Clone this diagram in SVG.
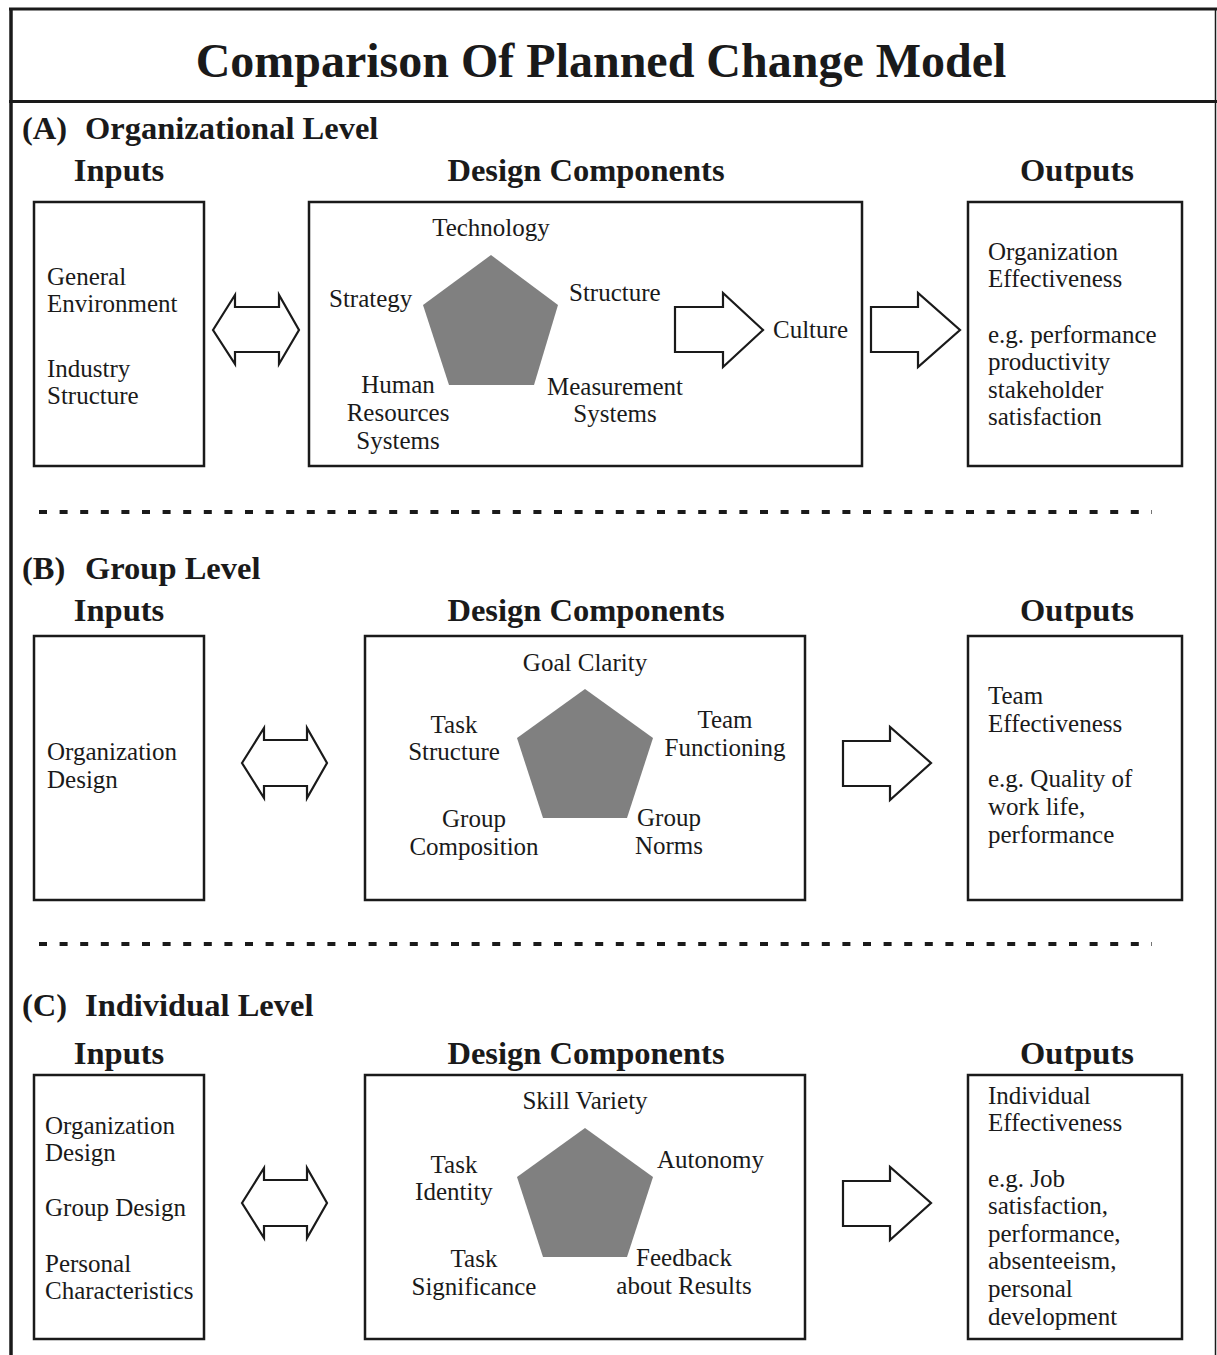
<svg xmlns="http://www.w3.org/2000/svg" width="1217" height="1355" viewBox="0 0 1217 1355">
<defs>
<style>
.frame{fill:none;stroke:#1a1a1a}
.box{fill:#fff;stroke:#1a1a1a;stroke-width:2.5}
.arrow{fill:#fff;stroke:#1a1a1a;stroke-width:2.2;stroke-linejoin:miter}
.pent{fill:#808080;stroke:none}
.dash{stroke:#1a1a1a;stroke-width:4;stroke-dasharray:8 12.6}
text{font-family:"Liberation Serif","Times New Roman",serif;fill:#1a1a1a}
.title{font-size:48px;font-weight:bold}
.sec{font-size:32.5px;font-weight:bold}
.hdr{font-size:32.5px;font-weight:bold}
.t{font-size:25px}
.c{text-anchor:middle}
</style>
</defs>
<rect width="1217" height="1355" fill="#fff"/>
<g id="frame">
<line class="frame" x1="11" y1="8" x2="11" y2="1355" stroke-width="3.5"/>
<line class="frame" x1="9" y1="9" x2="1217" y2="9" stroke-width="3"/>
<line class="frame" x1="1215.5" y1="8" x2="1215.5" y2="1355" stroke-width="1.5"/>
<line class="frame" x1="9" y1="101.5" x2="1217" y2="101.5" stroke-width="3"/>
<text class="title c" x="601" y="77">Comparison Of Planned Change Model</text>
<line class="dash" x1="39" y1="512" x2="1152" y2="512"/>
<line class="dash" x1="39" y1="944" x2="1152" y2="944"/>
</g>

<!-- Section A -->
<g id="sectionA">
<text class="sec" y="139"><tspan x="22">(A)</tspan><tspan x="85">Organizational Level</tspan></text>
<text class="hdr c" x="119" y="181">Inputs</text>
<text class="hdr c" x="586" y="181">Design Components</text>
<text class="hdr c" x="1077" y="181">Outputs</text>
</g>
<g id="A-inputs">
<rect class="box" x="34" y="202" width="170" height="264"/>
<text class="t" x="47" y="285">General</text>
<text class="t" x="47" y="312">Environment</text>
<text class="t" x="47" y="377">Industry</text>
<text class="t" x="47" y="404">Structure</text>
</g>
<g id="A-design">
<rect class="box" x="309" y="202" width="553" height="264"/>
<polygon class="pent" points="491,255 558,305 534,385 449,385 423,305"/>
<text class="t c" x="491" y="236">Technology</text>
<text class="t" x="329" y="307">Strategy</text>
<text class="t" x="569" y="301">Structure</text>
<text class="t c" x="398" y="393">Human</text>
<text class="t c" x="398" y="421">Resources</text>
<text class="t c" x="398" y="449">Systems</text>
<text class="t c" x="615" y="395">Measurement</text>
<text class="t c" x="615" y="422">Systems</text>
<text class="t" x="773" y="338">Culture</text>
</g>
<g id="A-outputs">
<rect class="box" x="968" y="202" width="214" height="264"/>
<text class="t" x="988" y="260">Organization</text>
<text class="t" x="988" y="287">Effectiveness</text>
<text class="t" x="988" y="343">e.g. performance</text>
<text class="t" x="988" y="370">productivity</text>
<text class="t" x="988" y="398">stakeholder</text>
<text class="t" x="988" y="425">satisfaction</text>
</g>

<!-- Section B -->
<g id="sectionB">
<text class="sec" y="579"><tspan x="22">(B)</tspan><tspan x="85">Group Level</tspan></text>
<text class="hdr c" x="119" y="621">Inputs</text>
<text class="hdr c" x="586" y="621">Design Components</text>
<text class="hdr c" x="1077" y="621">Outputs</text>
</g>
<g id="B-inputs">
<rect class="box" x="34" y="636" width="170" height="264"/>
<text class="t" x="47" y="760">Organization</text>
<text class="t" x="47" y="788">Design</text>
</g>
<g id="B-design">
<rect class="box" x="365" y="636" width="440" height="264"/>
<polygon class="pent" points="585,689 653,738 627,818 543,818 517,738"/>
<text class="t c" x="585" y="671">Goal Clarity</text>
<text class="t c" x="454" y="733">Task</text>
<text class="t c" x="454" y="760">Structure</text>
<text class="t c" x="725" y="728">Team</text>
<text class="t c" x="725" y="756">Functioning</text>
<text class="t c" x="474" y="827">Group</text>
<text class="t c" x="474" y="855">Composition</text>
<text class="t c" x="669" y="826">Group</text>
<text class="t c" x="669" y="854">Norms</text>
</g>
<g id="B-outputs">
<rect class="box" x="968" y="636" width="214" height="264"/>
<text class="t" x="988" y="704">Team</text>
<text class="t" x="988" y="732">Effectiveness</text>
<text class="t" x="988" y="787">e.g. Quality of</text>
<text class="t" x="988" y="815">work life,</text>
<text class="t" x="988" y="843">performance</text>
</g>

<!-- Section C -->
<g id="sectionC">
<text class="sec" y="1016"><tspan x="22">(C)</tspan><tspan x="85">Individual Level</tspan></text>
<text class="hdr c" x="119" y="1064">Inputs</text>
<text class="hdr c" x="586" y="1064">Design Components</text>
<text class="hdr c" x="1077" y="1064">Outputs</text>
</g>
<g id="C-inputs">
<rect class="box" x="34" y="1075" width="170" height="264"/>
<text class="t" x="45" y="1134">Organization</text>
<text class="t" x="45" y="1161">Design</text>
<text class="t" x="45" y="1216">Group Design</text>
<text class="t" x="45" y="1272">Personal</text>
<text class="t" x="45" y="1299">Characteristics</text>
</g>
<g id="C-design">
<rect class="box" x="365" y="1075" width="440" height="264"/>
<polygon class="pent" points="585,1128 653,1177 627,1257 543,1257 517,1177"/>
<text class="t c" x="585" y="1109">Skill Variety</text>
<text class="t c" x="454" y="1173">Task</text>
<text class="t c" x="454" y="1200">Identity</text>
<text class="t" x="657" y="1168">Autonomy</text>
<text class="t c" x="474" y="1267">Task</text>
<text class="t c" x="474" y="1295">Significance</text>
<text class="t c" x="684" y="1266">Feedback</text>
<text class="t c" x="684" y="1294">about Results</text>
</g>
<g id="C-outputs">
<rect class="box" x="968" y="1075" width="214" height="264"/>
<text class="t" x="988" y="1104">Individual</text>
<text class="t" x="988" y="1131">Effectiveness</text>
<text class="t" x="988" y="1187">e.g. Job</text>
<text class="t" x="988" y="1214">satisfaction,</text>
<text class="t" x="988" y="1242">performance,</text>
<text class="t" x="988" y="1269">absenteeism,</text>
<text class="t" x="988" y="1297">personal</text>
<text class="t" x="988" y="1325">development</text>
</g>

<g id="connectors">
<polygon class="arrow" points="213,330 235,295 235,307 279,307 279,295 299,330 279,364 279,352 235,352 235,364"/>
<polygon class="arrow" points="675,307 723,307 723,293 763,330 723,367 723,352 675,352"/>
<polygon class="arrow" points="871,307 918,307 918,293 960,330 918,367 918,352 871,352"/>
<polygon class="arrow" points="242,763 264,728 264,740 307,740 307,728 327,763 307,798 307,786 264,786 264,798"/>
<polygon class="arrow" points="843,741 890,741 890,727 931,763 890,800 890,786 843,786"/>
<polygon class="arrow" points="242,1203 264,1168 264,1180 307,1180 307,1168 327,1203 307,1238 307,1226 264,1226 264,1238"/>
<polygon class="arrow" points="843,1181 890,1181 890,1167 931,1203 890,1240 890,1226 843,1226"/>
</g>
</svg>
